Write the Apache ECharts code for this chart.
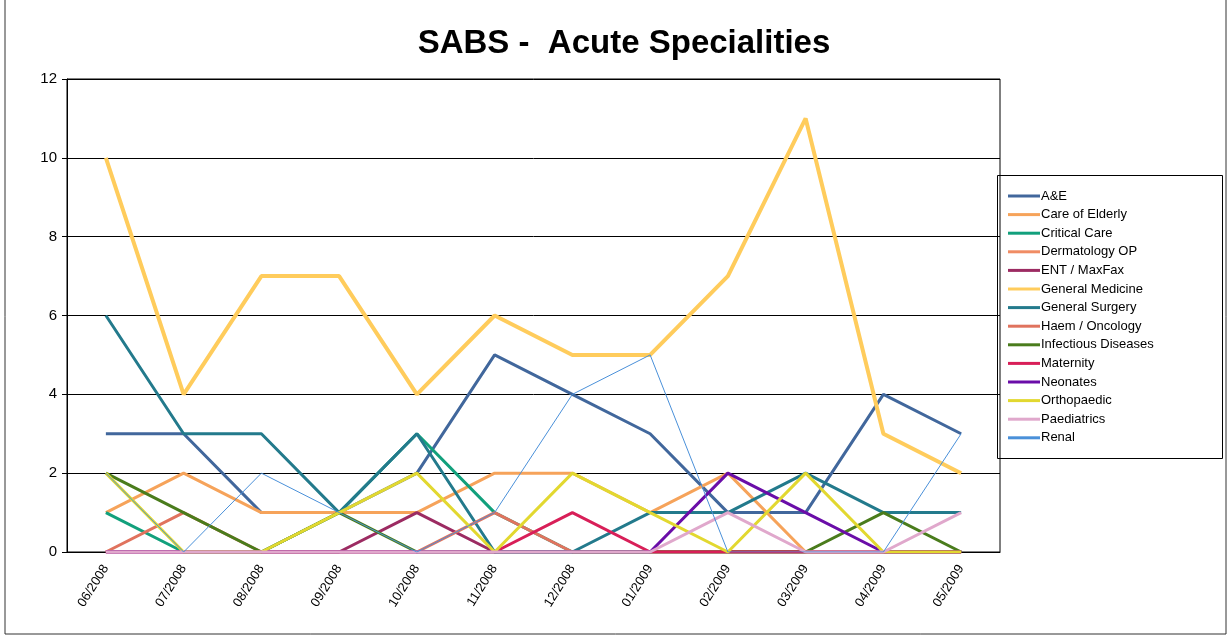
<!DOCTYPE html>
<html>
<head>
<meta charset="utf-8">
<script src="https://cdn.jsdelivr.net/npm/echarts@6/dist/echarts.min.js"></script>
<style>
  html, body { margin: 0; padding: 0; background: #fff; }
  #chart { width: 1230px; height: 638px; }
</style>
</head>
<body>
<div id="chart"></div>
<script>
const months = ['06/2008','07/2008','08/2008','09/2008','10/2008','11/2008','12/2008','01/2009','02/2009','03/2009','04/2009','05/2009'];

const aAndE           = [3, 3, 1, 1, 2, 5, 4, 3, 1, 1, 4, 3];
const careOfElderly   = [1, 2, 1, 1, 1, 2, 2, 1, 2, 0, 0, 0];
const criticalCare    = [1, 0, 0, 1, 3, 1, 0, 0, 0, 0, 0, 0];
const dermatologyOp   = [0, 0, 0, 0, 0, 0, 0, 0, 0, 0, 0, 0];
const entMaxFax       = [0, 0, 0, 0, 1, 0, 0, 0, 0, 0, 0, 0];
const generalMedicine = [10, 4, 7, 7, 4, 6, 5, 5, 7, 11, 3, 2];
const generalSurgery  = [6, 3, 3, 1, 3, 0, 0, 1, 1, 2, 1, 1];
const haemOncology    = [0, 1, 0, 0, 0, 1, 0, 0, 0, 0, 0, 0];
const infectious      = [2, 1, 0, 1, 0, 0, 0, 0, 0, 0, 1, 0];
const maternity       = [0, 0, 0, 0, 0, 0, 1, 0, 0, 0, 0, 0];
const neonates        = [0, 0, 0, 0, 0, 0, 0, 0, 2, 1, 0, 0];
const orthopaedic     = [2, 0, 0, 1, 2, 0, 2, 1, 0, 2, 0, 0];
const paediatrics     = [0, 0, 0, 0, 0, 0, 0, 0, 1, 0, 0, 1];
const renal           = [2, 0, 2, 1, 0, 1, 4, 5, 0, 0, 0, 3];

const yTicks = [0, 2, 4, 6, 8, 10, 12];

// name, data, colour, width
const seriesDefs = [
  ['A&E', aAndE, '#41679c', 3],
  ['Care of Elderly', careOfElderly, '#f6a35a', 3],
  ['Critical Care', criticalCare, '#12a07c', 3],
  ['Dermatology OP', dermatologyOp, '#f08c64', 2],
  ['ENT / MaxFax', entMaxFax, '#9c2b62', 3],
  ['General Medicine', generalMedicine, '#ffcc5c', 4],
  ['General Surgery', generalSurgery, '#237a8c', 3],
  ['Haem / Oncology', haemOncology, '#e0735e', 3],
  ['Infectious Diseases', infectious, '#4a7c1c', 3],
  ['Maternity', maternity, '#d81f58', 3],
  ['Neonates', neonates, '#6a0da8', 3],
  ['Orthopaedic', orthopaedic, '#e2d830', 3],
  ['Paediatrics', paediatrics, '#e0a8cc', 3],
  ['Renal', renal, '#4a90d9', 1]
];

const chart = echarts.init(document.getElementById('chart'));
const font = '"Liberation Sans", Arial, sans-serif';

chart.setOption({
  animation: false,
  textStyle: { fontFamily: font },
  title: {
    text: 'SABS -  Acute Specialities',
    left: 619, top: 22, textAlign: 'center',
    textStyle: { fontSize: 33, fontWeight: 'bold', color: '#000', fontFamily: font }
  },
  graphic: [
    { type: 'rect', shape: { x: 5, y: -2, width: 1221, height: 636 },
      style: { fill: 'none', stroke: '#333', lineWidth: 1 }, z: -1 },
    { type: 'rect', shape: { x: 997.5, y: 175.5, width: 225, height: 283 },
      style: { fill: '#fff', stroke: '#000', lineWidth: 1 }, z: 0 },
    { type: 'rect', shape: { x: 67, y: 79, width: 933, height: 473 },
      style: { fill: 'none', stroke: '#000', lineWidth: 1 }, z: 1 }
  ],
  legend: {
    orient: 'vertical',
    left: 1008, top: 189,
    icon: 'rect',
    itemWidth: 32, itemHeight: 3, itemGap: 4.6,
    padding: 0,
    textStyle: { fontSize: 13, lineHeight: 14, color: '#000', fontFamily: font, padding: [0, 0, 0, -4] },
    z: 5
  },
  grid: { left: 67, right: 230, top: 79, bottom: 86 },
  xAxis: {
    type: 'category',
    data: months,
    boundaryGap: true,
    axisLine: { lineStyle: { color: '#000', width: 1 } },
    axisTick: { show: false },
    axisLabel: { rotate: 58, color: '#000', fontSize: 13, margin: 14, interval: 0 }
  },
  yAxis: {
    type: 'value',
    min: 0, max: 12, interval: 2,
    axisLine: { show: true, lineStyle: { color: '#000', width: 1 } },
    axisTick: { show: true, length: 5, lineStyle: { color: '#000' } },
    axisLabel: { color: '#000', fontSize: 15, margin: 10,
      formatter: v => yTicks.includes(v) ? String(v) : '' },
    splitLine: { lineStyle: { color: '#000', width: 1 } }
  },
  series: seriesDefs.map(([name, data, color, w]) => ({
    name, type: 'line', data,
    symbol: 'none',
    color,
    lineStyle: { color, width: w }
  }))
});
</script>
</body>
</html>
